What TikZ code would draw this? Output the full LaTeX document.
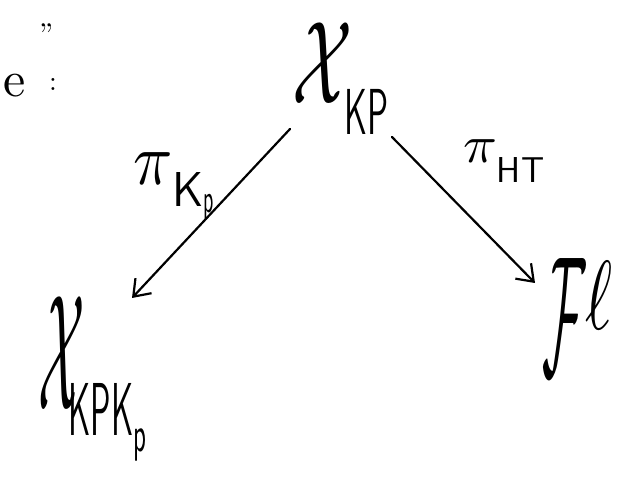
\documentclass[tikz,border=0pt]{standalone}
\usepackage{graphicx}
\usetikzlibrary{arrows.meta}
\tikzset{
  sym/.style={inner sep=0pt, outer sep=0pt, anchor=base west},
  arr/.style={line width=2.2pt, line cap=round, -{Straight Barb[length=15pt,width=22pt,line width=2.2pt]}}
}
\begin{document}
\begin{tikzpicture}[x=1pt,y=-1pt]
\useasboundingbox (0,0) rectangle (630,486);
% top-left fragment
\node[inner sep=0pt, anchor=base east] (frag) at (26,97) {\scalebox{5}{e}};
\node[sym] (colon) at (49,91) {\scalebox{2.8}{:}};
\node[inner sep=0pt, anchor=north west] (quote) at (39,23) {\scalebox{3}{''}};
% objects
\node[sym] (top) at (292,104)
  {\scalebox{7}[11.8]{$\mathcal{X}$}\kern-8pt\raisebox{-31pt}{\scalebox{3.3}[6.5]{\textsf{KP}}}};
\node[sym] (left) at (38,410)
  {\scalebox{5.4}[16.5]{$\mathcal{X}$}\kern-16pt\raisebox{-25pt}{\scalebox{3.2}[7.5]{\textsf{KPK}}\raisebox{-17pt}{\scalebox{2.5}[5]{\textsf{p}}}}};
\node[sym] (right) at (542,330)
  {\raisebox{-45pt}{\scalebox{5.3}[17.1]{$\mathcal{F}$}}\scalebox{6.5}[9.8]{$\ell$}};
% labels
\node[sym] (lab1) at (133,185)
  {\scalebox{6.5}[7.4]{$\pi$}\raisebox{-22pt}{\scalebox{4.5}[4.9]{\textsf{K}}\raisebox{-6pt}{\scalebox{2}[4]{\textsf{p}}}}};
\node[sym] (lab2) at (463,163)
  {\scalebox{5.6}[5.3]{$\pi$}\raisebox{-20pt}{\scalebox{3.4}[3.6]{\textsf{HT}}}};
% connector ends
\coordinate (s1) at (290,129);
\coordinate (e1) at (132,298);
\coordinate (s2) at (392,137);
\coordinate (e2) at (535,283);
\draw[arr] (s1) -- (e1);
\draw[arr] (s2) -- (e2);
\end{tikzpicture}
\end{document}
